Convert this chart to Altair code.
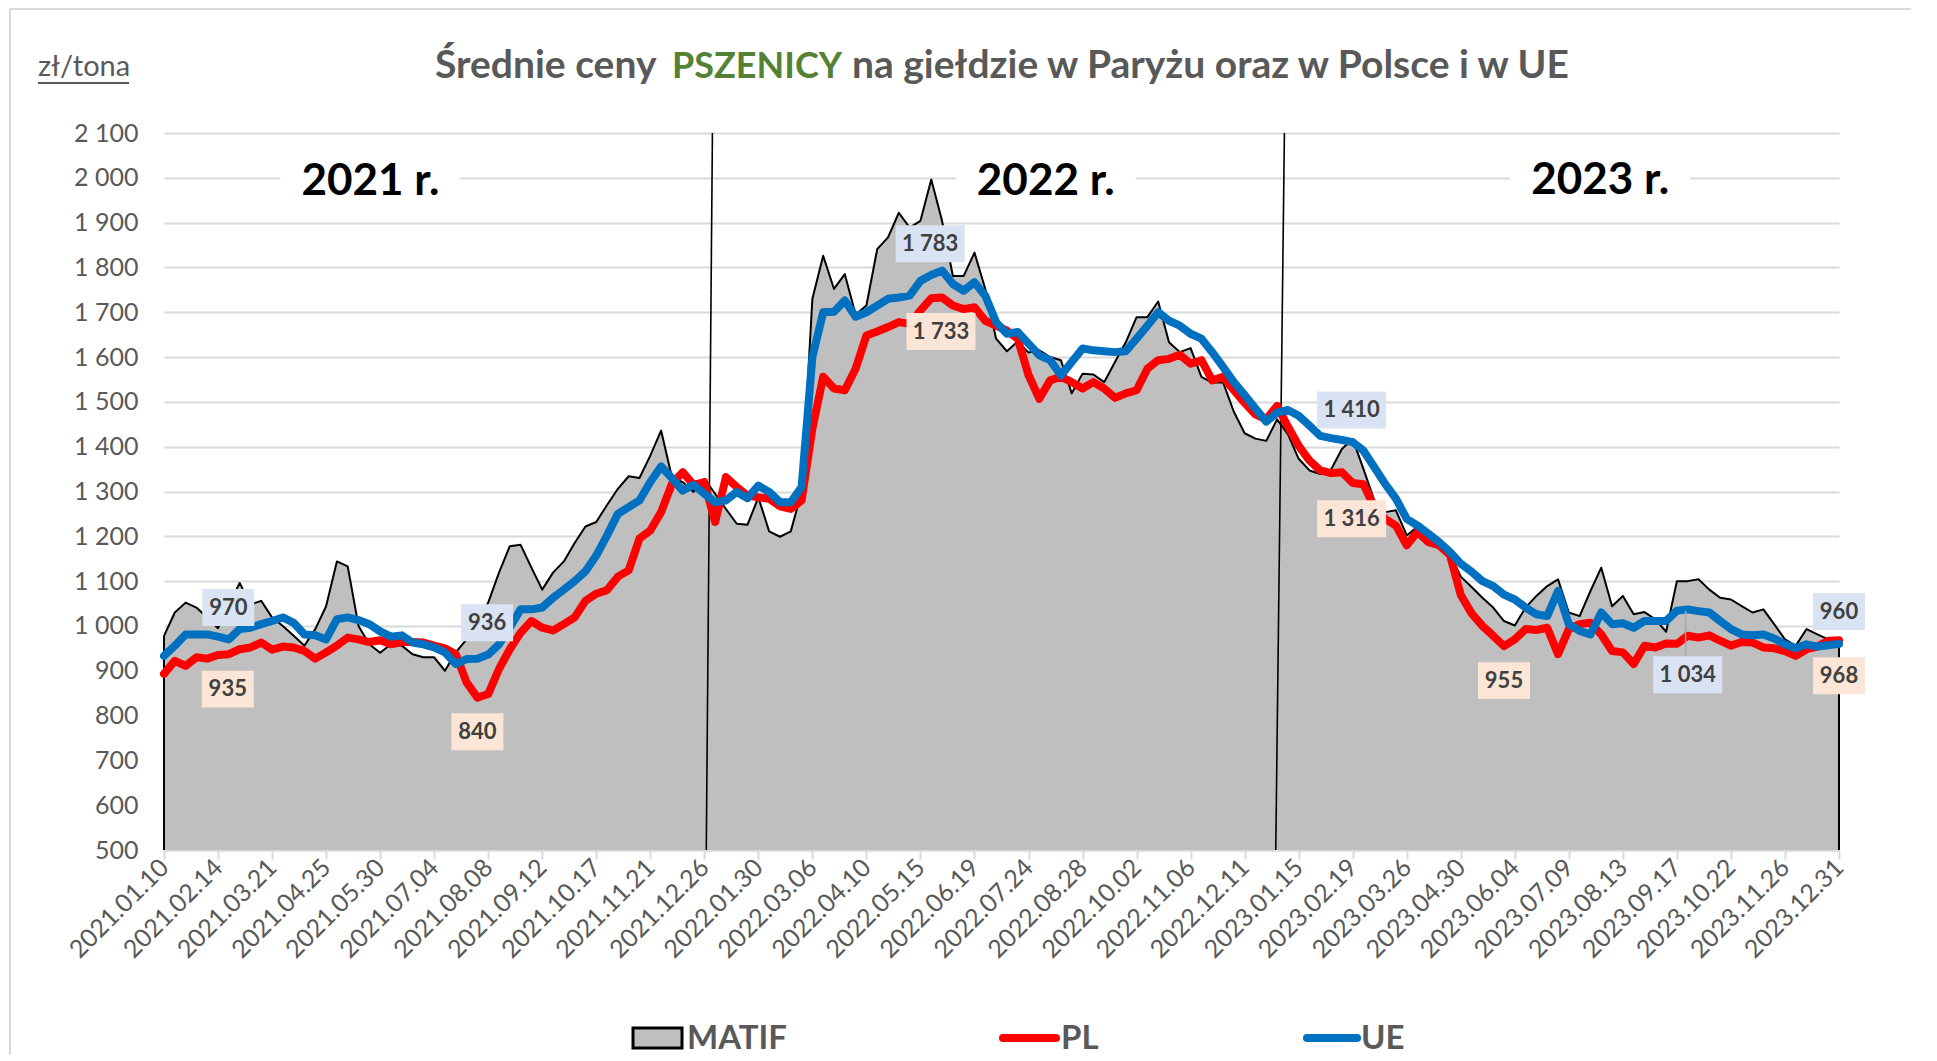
import altair as alt
import pandas as pd

W, H = 1675, 717

tick_labels = [
    "2021.01.10", "2021.02.14", "2021.03.21", "2021.04.25", "2021.05.30", "2021.07.04",
    "2021.08.08", "2021.09.12", "2021.10.17", "2021.11.21", "2021.12.26", "2022.01.30",
    "2022.03.06", "2022.04.10", "2022.05.15", "2022.06.19", "2022.07.24", "2022.08.28",
    "2022.10.02", "2022.11.06", "2022.12.11", "2023.01.15", "2023.02.19", "2023.03.26",
    "2023.04.30", "2023.06.04", "2023.07.09", "2023.08.13", "2023.09.17", "2023.10.22",
    "2023.11.26", "2023.12.31",
]

matif = [
    978, 1030, 1052, 1041, 1019, 995, 1045, 1096, 1048, 1056,
    1019, 1000, 978, 956, 993, 1044, 1144, 1133, 1000, 959,
    940, 959, 956, 937, 930, 930, 900, 941, 970, 1007,
    1052, 1119, 1178, 1181, 1130, 1081, 1119, 1144, 1185, 1222,
    1232, 1270, 1306, 1334, 1330, 1380, 1436, 1332, 1321, 1299,
    1328, 1295, 1261, 1228, 1226, 1287, 1211, 1199, 1211, 1299,
    1730, 1826, 1752, 1785, 1695, 1715, 1841, 1867, 1922, 1889,
    1904, 1996, 1904, 1781, 1781, 1833, 1752, 1641, 1613, 1635,
    1610, 1615, 1600, 1593, 1519, 1563, 1561, 1544, 1589, 1633,
    1689, 1689, 1724, 1633, 1611, 1620, 1556, 1543, 1544, 1478,
    1430, 1418, 1413, 1461, 1428, 1373, 1347, 1339, 1349, 1395,
    1417, 1350, 1280, 1254, 1258, 1202, 1221, 1187, 1173, 1161,
    1110, 1087, 1063, 1041, 1011, 1001, 1041, 1067, 1089, 1104,
    1030, 1022, 1078, 1130, 1044, 1067, 1026, 1031, 1015, 987,
    1100, 1100, 1104, 1081, 1063, 1059, 1044, 1030, 1037, 1004,
    970, 956, 993, 981, 970, 968,
]

pl = [
    893, 922, 911, 930, 927, 935, 937, 948, 952, 963,
    947, 954, 952, 944, 927, 941, 956, 974, 970, 964,
    968, 959, 964, 964, 963, 956, 950, 937, 874, 840,
    848, 904, 948, 985, 1011, 996, 990, 1004, 1019, 1056,
    1072, 1080, 1110, 1124, 1195, 1213, 1254, 1317, 1343, 1315,
    1321, 1232, 1332, 1310, 1291, 1287, 1284, 1267, 1261, 1280,
    1440, 1556, 1530, 1526, 1574, 1648, 1657, 1667, 1678, 1674,
    1704, 1731, 1733, 1715, 1707, 1711, 1681, 1670, 1659, 1641,
    1560, 1507, 1548, 1556, 1544, 1530, 1544, 1530, 1509, 1519,
    1526, 1574, 1593, 1596, 1605, 1585, 1593, 1548, 1556, 1526,
    1498, 1472, 1461, 1491, 1445, 1402, 1369, 1347, 1341, 1343,
    1319, 1316, 1265, 1239, 1224, 1180, 1210, 1187, 1180, 1158,
    1069, 1028, 1000, 978, 955, 970, 993, 991, 996, 937,
    993, 1004, 1007, 981, 944, 941, 915, 956, 952, 961,
    960, 978, 974, 979, 967, 956, 964, 963, 952, 950,
    944, 933, 948, 954, 967, 968,
]

ue = [
    933, 956, 981, 981, 981, 976, 970, 993, 996, 1004,
    1011, 1019, 1007, 981, 979, 970, 1015, 1019, 1013, 1004,
    988, 976, 979, 963, 959, 952, 941, 915, 926, 927,
    936, 959, 996, 1037, 1037, 1041, 1063, 1081, 1100, 1122,
    1157, 1202, 1250, 1265, 1280, 1321, 1356, 1330, 1302, 1315,
    1295, 1276, 1280, 1299, 1285, 1313, 1299, 1276, 1276, 1310,
    1600, 1700, 1701, 1726, 1690, 1700, 1715, 1730, 1733, 1737,
    1770, 1783, 1793, 1763, 1748, 1767, 1737, 1678, 1652, 1656,
    1630, 1604, 1593, 1559, 1589, 1619, 1615, 1613, 1611, 1613,
    1641, 1670, 1700, 1681, 1670, 1652, 1641, 1611, 1578, 1544,
    1515, 1485, 1456, 1476, 1482, 1469, 1447, 1424, 1419, 1415,
    1410, 1391, 1354, 1317, 1284, 1239, 1224, 1206, 1187, 1165,
    1139, 1121, 1100, 1089, 1070, 1059, 1041, 1026, 1022, 1078,
    1004, 989, 981, 1030, 1004, 1006, 996, 1011, 1011, 1011,
    1034, 1037, 1033, 1030, 1011, 993, 981, 979, 981, 972,
    959, 950, 959, 954, 957, 960,
]

# data labels (week position, value position, text, series)
lab_x = [5.95, 5.9, 29.9, 29.0, 70.9, 71.9, 109.9, 109.9, 124.0, 141.0, 155.0, 155.0]
lab_y = [1041, 859, 1007, 764, 1853, 1657, 1482, 1239, 878, 891, 1032, 889]
lab_text = ["970", "935", "936", "840", "1 783", "1 733", "1 410", "1 316", "955", "1 034", "960", "968"]
lab_series = ["UE", "PL", "UE", "PL", "UE", "PL", "UE", "PL", "PL", "UE", "UE", "PL"]

# leader line for the "1 034" label
leader_x = [140.8]
leader_top = [1034]
leader_bottom = [925]

# year captions
year_x = [19.1, 81.6, 132.9]
year_y = [1990, 1990, 1993]
year_text = ["2021 r.", "2022 r.", "2023 r."]

# year separators (top / bottom week position)
sep_top = [50.75, 103.68]
sep_bottom = [50.18, 102.88]

weeks = list(range(len(matif)))
df = pd.DataFrame({"week": weeks, "MATIF": matif, "PL": pl, "UE": ue})

box_fill = {"UE": "#DAE3F3", "PL": "#FBE5D6"}
shape3 = "M-1,-0.71L1,-0.71L1,0.71L-1,0.71Z"
shape5 = "M-1,-0.536L1,-0.536L1,0.536L-1,0.536Z"
labels_df = pd.DataFrame({
    "x": lab_x, "y": lab_y, "text": lab_text,
    "fill": [box_fill[s] for s in lab_series],
    "shape": [shape5 if len(t) > 3 else shape3 for t in lab_text],
    "size": [4761 if len(t) > 3 else 2704 for t in lab_text],
})
leader_df = pd.DataFrame({"x": leader_x, "top": leader_top, "bot": leader_bottom})
years_df = pd.DataFrame({"x": year_x, "y": year_y, "text": year_text})
sep_df = pd.DataFrame({"xt": sep_top, "xb": sep_bottom, "yt": [2100, 2100], "yb": [500, 500]})
edge_df = pd.DataFrame({"week": [weeks[0], weeks[-1]], "top": [matif[0], matif[-1]], "bot": [500, 500]})

FONT = "Lato"
GRAY = "#595959"

xscale = alt.Scale(domain=[0, 155], nice=False, zero=False)
yscale = alt.Scale(domain=[500, 2100], nice=False, zero=False)

labels_js = "[" + ",".join("'" + s + "'" for s in tick_labels) + "]"

x_axis = alt.Axis(
    values=list(range(0, 156, 5)),
    labelExpr=labels_js + "[round(datum.value / 5)]",
    labelAngle=315, labelAlign="right", labelBaseline="middle",
    labelFont=FONT, labelFontSize=25, labelColor=GRAY, labelPadding=4,
    labelFlush=False, labelOverlap=False,
    tickColor="#D9D9D9", tickSize=9, tickWidth=2,
    domainColor="#D9D9D9", domainWidth=2, grid=False, title=None,
)
y_axis = alt.Axis(
    values=list(range(500, 2101, 100)),
    labelExpr="replace(format(datum.value, ','), ',', ' ')",
    labelFont=FONT, labelFontSize=25, labelColor=GRAY, labelPadding=26,
    ticks=False, domain=False, grid=True, gridColor="#D9D9D9", gridWidth=2,
    title=None,
)


def X(f):
    return alt.X(f, scale=xscale, axis=x_axis)


def Y(f):
    return alt.Y(f, scale=yscale, axis=y_axis)


base = alt.Chart(df)
area = base.mark_area(color="#BFBFBF", opacity=1).encode(
    x=X("week:Q"), y=Y("MATIF:Q"), y2=alt.datum(500),
)
edges = alt.Chart(edge_df).mark_rule(color="black", strokeWidth=2).encode(
    x=X("week:Q"), y=Y("top:Q"), y2="bot:Q",
)
mline = base.mark_line(color="black", strokeWidth=2, strokeJoin="round").encode(
    x=X("week:Q"), y=Y("MATIF:Q"),
)
seps = alt.Chart(sep_df).mark_rule(color="black", strokeWidth=1.6).encode(
    x=X("xt:Q"), x2="xb:Q", y=Y("yt:Q"), y2="yb:Q",
)
pline = base.mark_line(color="#FF0000", strokeWidth=8, strokeJoin="round", strokeCap="round").encode(
    x=X("week:Q"), y=Y("PL:Q"),
)
uline = base.mark_line(color="#0070C0", strokeWidth=8, strokeJoin="round", strokeCap="round").encode(
    x=X("week:Q"), y=Y("UE:Q"),
)
leader = alt.Chart(leader_df).mark_rule(color="#A6A6A6", strokeWidth=1.5).encode(
    x=X("x:Q"), y=Y("top:Q"), y2="bot:Q",
)
boxes = alt.Chart(labels_df).mark_point(filled=True, opacity=1, strokeWidth=0).encode(
    x=X("x:Q"), y=Y("y:Q"),
    shape=alt.Shape("shape:N", scale=None, legend=None),
    size=alt.Size("size:Q", scale=None, legend=None),
    color=alt.Color("fill:N", scale=None, legend=None),
)
btext = alt.Chart(labels_df).mark_text(
    font=FONT, fontSize=22, fontWeight="bold", color="#404040", align="center", baseline="middle"
).encode(
    x=X("x:Q"), y=Y("y:Q"), text="text:N",
)
ybox = alt.Chart(years_df).mark_point(
    filled=True, opacity=1, strokeWidth=0, color="white",
    shape="M-1,-0.28L1,-0.28L1,0.28L-1,0.28Z", size=32400,
).encode(
    x=X("x:Q"), y=Y("y:Q"),
)
ytext = alt.Chart(years_df).mark_text(
    font=FONT, fontSize=44, fontWeight="bold", color="black", align="center", baseline="middle"
).encode(
    x=X("x:Q"), y=Y("y:Q"), text="text:N",
)

one = alt.Chart(pd.DataFrame({"a": [0]}))


def txt(s, x, y, size, color=GRAY, weight="bold", align="left"):
    return one.mark_text(font=FONT, fontSize=size, fontWeight=weight, color=color,
                         align=align, baseline="alphabetic").encode(
        x=alt.value(x), y=alt.value(y), text=alt.value(s))


title1 = txt("Średnie ceny", 271, -55, 39)
title2 = txt("PSZENICY", 508, -55, 36, color="#548235")
title3 = txt("na giełdzie w Paryżu oraz w Polsce i w UE", 688, -55, 39)
unit = txt("zł/tona", -126, -57, 29, weight="normal")
unit_ul = one.mark_rule(color=GRAY, strokeWidth=2).encode(
    x=alt.value(-126), x2=alt.value(-35), y=alt.value(-50))

border_top = one.mark_rule(color="#D9D9D9", strokeWidth=2).encode(
    x=alt.value(-154), x2=alt.value(W + 72), y=alt.value(-124))
border_left = one.mark_rule(color="#D9D9D9", strokeWidth=2).encode(
    x=alt.value(-154), y=alt.value(-124), y2=alt.value(H + 205))

leg_sw = one.mark_rect(fill="#BFBFBF", stroke="black", strokeWidth=3).encode(
    x=alt.value(469), x2=alt.value(518), y=alt.value(895), y2=alt.value(915))
leg_t1 = txt("MATIF", 523, 916, 33)
leg_pl = one.mark_rule(color="#FF0000", strokeWidth=8, strokeCap="round").encode(
    x=alt.value(839), x2=alt.value(892), y=alt.value(905))
leg_t2 = txt("PL", 897, 916, 33)
leg_ue = one.mark_rule(color="#0070C0", strokeWidth=8, strokeCap="round").encode(
    x=alt.value(1143), x2=alt.value(1193), y=alt.value(905))
leg_t3 = txt("UE", 1197, 916, 33)

chart = alt.layer(
    area, edges, mline, seps, pline, uline, leader, boxes, btext, ybox, ytext,
    title1, title2, title3, unit, unit_ul, border_top, border_left,
    leg_sw, leg_t1, leg_pl, leg_t2, leg_ue, leg_t3,
).properties(
    width=W, height=H,
    autosize=alt.AutoSizeParams(type="none"),
    padding={"left": 156, "top": 125, "right": 72, "bottom": 205},
).configure(font=FONT).configure_view(stroke=None)

chart.save("out.html", embed_options={"renderer": "svg", "actions": False})
